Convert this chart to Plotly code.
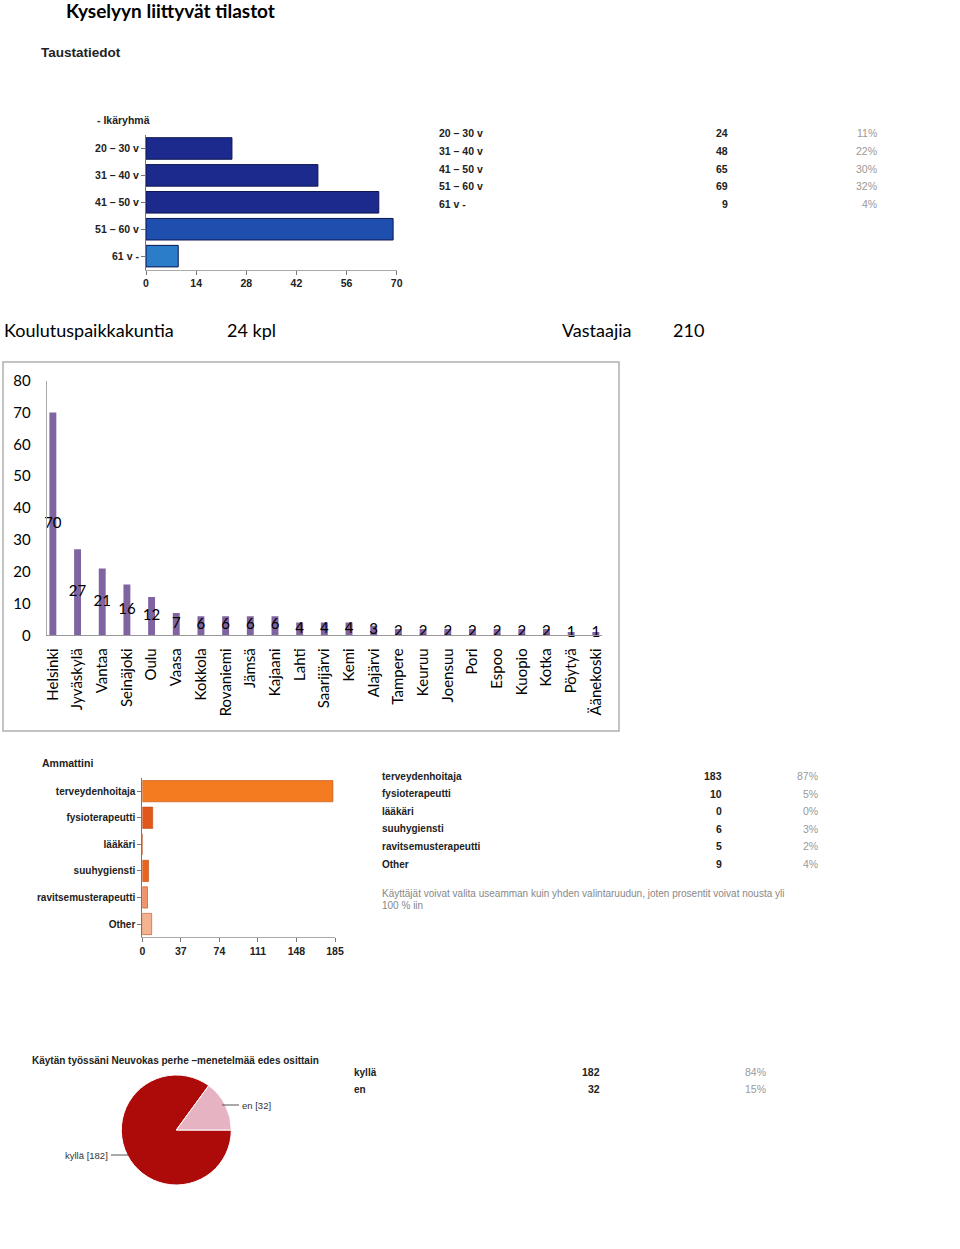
import plotly.graph_objects as go

W, H = 960, 1249
def px(v): return v / W
def py(v): return 1 - v / H

# ---------------- data ----------------
title_main = "Kyselyyn liittyvät tilastot"
section_title = "Taustatiedot"

age_groups = ["20 – 30 v", "31 – 40 v", "41 – 50 v", "51 – 60 v", "61 v -"]
age_counts = [24, 48, 65, 69, 9]
age_pct = ["11%", "22%", "30%", "32%", "4%"]
age_colors = ["#1b2a8c", "#1b2a8c", "#1b2a8c", "#1f4fae", "#2b7cc9"]
age_ticks = [0, 14, 28, 42, 56, 70]

cities = ["Helsinki", "Jyväskylä", "Vantaa", "Seinäjoki", "Oulu", "Vaasa", "Kokkola",
          "Rovaniemi", "Jämsä", "Kajaani", "Lahti", "Saarijärvi", "Kemi", "Alajärvi",
          "Tampere", "Keuruu", "Joensuu", "Pori", "Espoo", "Kuopio", "Kotka", "Pöytyä",
          "Äänekoski"]
city_counts = [70, 27, 21, 16, 12, 7, 6, 6, 6, 6, 4, 4, 4, 3, 2, 2, 2, 2, 2, 2, 2, 1, 1]
summary_labels = ["Koulutuspaikkakuntia", "24 kpl", "Vastaajia", "210"]

jobs = ["terveydenhoitaja", "fysioterapeutti", "lääkäri", "suuhygiensti",
        "ravitsemusterapeutti", "Other"]
job_counts = [183, 10, 0, 6, 5, 9]
job_pct = ["87%", "5%", "0%", "3%", "2%", "4%"]
job_colors = ["#f47b20", "#e2571a", "#e2571a", "#e8641e", "#f0946a", "#f4b38e"]
job_ticks = [0, 37, 74, 111, 148, 185]
job_note = ["Käyttäjät voivat valita useamman kuin yhden valintaruudun, joten prosentit voivat nousta yli",
            "100 % iin"]

pie_title = "Käytän työssäni Neuvokas perhe –menetelmää edes osittain"
pie_labels = ["kyllä", "en"]
pie_values = [182, 32]
pie_pct = ["84%", "15%"]
pie_colors = ["#ad0a0a", "#e6b3c3"]

# ---------------- figure ----------------
fig = go.Figure()
SANS = "Liberation Sans"

fig.add_trace(go.Bar(
    x=age_counts, y=age_groups, orientation="h", xaxis="x", yaxis="y",
    marker=dict(color=age_colors, line=dict(color="#0d1650", width=1)),
    hoverinfo="skip"))

fig.add_trace(go.Bar(
    x=cities, y=city_counts, xaxis="x2", yaxis="y2", width=0.28,
    marker=dict(color="#8064a2"), hoverinfo="skip"))
fig.add_trace(go.Scatter(
    x=cities, y=[v / 2 for v in city_counts], text=[str(v) for v in city_counts],
    mode="text", textfont=dict(family="Lato", size=15, color="black"),
    xaxis="x2", yaxis="y2", cliponaxis=False, hoverinfo="skip"))

fig.add_trace(go.Bar(
    x=job_counts, y=jobs, orientation="h", xaxis="x3", yaxis="y3",
    marker=dict(color=job_colors, line=dict(color="#c04a10", width=0.6)),
    hoverinfo="skip"))

fig.add_trace(go.Pie(
    labels=pie_labels, values=pie_values, sort=False, direction="counterclockwise",
    rotation=90, textinfo="none", marker=dict(colors=pie_colors, line=dict(color="white", width=1)),
    domain=dict(x=[px(176.3 - 55), px(176.3 + 55)], y=[py(1185), py(1075)]),
    hoverinfo="skip"))

tick_small = dict(family=SANS, size=10.5, color="#222", weight="bold")
fig.update_layout(
    template="none",
    width=W, height=H, margin=dict(l=0, r=0, t=0, b=0, pad=0), autosize=False,
    paper_bgcolor="white", plot_bgcolor="white", showlegend=False,
    bargap=0.2,
    xaxis=dict(domain=[px(146), px(396.7)], range=[0, 70], tickvals=age_ticks, automargin=False,
               ticks="outside", ticklen=4, tickcolor="#777", showline=True, linecolor="#aaa",
               showgrid=False, zeroline=False, tickfont=tick_small, anchor="y", fixedrange=True),
    yaxis=dict(domain=[py(269.6), py(135)], autorange="reversed", type="category", automargin=False,
               ticks="outside", ticklen=4, tickcolor="#777", showline=True, linecolor="#777",
               showgrid=False, zeroline=False, tickfont=tick_small, anchor="x", fixedrange=True),
    xaxis2=dict(domain=[px(46.7), px(602)], range=[-0.25, 22.25], type="category", automargin=False,
                tickangle=-90, tickfont=dict(family="Lato", size=15, color="black"),
                showline=True, linecolor="#999", ticks="", showgrid=False, zeroline=False,
                ticklabelstandoff=6, anchor="y2", fixedrange=True),
    yaxis2=dict(domain=[py(635.3), py(380.7)], range=[0, 80], dtick=10, automargin=False,
                showline=True, linecolor="#aaa", ticks="", showgrid=False, zeroline=False,
                tickfont=dict(family="Lato", size=15, color="black"),
                ticklabelstandoff=12, anchor="x2", fixedrange=True),
    xaxis3=dict(domain=[px(142.3), px(335)], range=[0, 185], tickvals=job_ticks, automargin=False,
                ticks="outside", ticklen=4, tickcolor="#777", showline=True, linecolor="#aaa",
                showgrid=False, zeroline=False, tickfont=tick_small, anchor="y3", fixedrange=True),
    yaxis3=dict(domain=[py(937.3), py(777.9)], autorange="reversed", type="category", automargin=False,
                ticks="outside", ticklen=4, tickcolor="#777", showline=True, linecolor="#777",
                showgrid=False, zeroline=False,
                tickfont=dict(family=SANS, size=10, color="#222", weight="bold"),
                anchor="x3", fixedrange=True),
)

ann = []
def text(x, y, s, size=11, color="#222", bold=False, family=SANS, anchor="left"):
    ann.append(dict(x=px(x), y=py(y), xref="paper", yref="paper", text=s, showarrow=False,
                    xanchor=anchor, yanchor="middle", borderpad=0,
                    font=dict(family=family, size=size, color=color,
                              weight="bold" if bold else "normal")))

text(65, 10.5, title_main, size=19, color="black", bold=True, family="Lato")
text(40, 52, section_title, size=13.5, bold=True)
text(96, 120, "- Ikäryhmä", size=10.5, bold=True)

for i, (g, c, p) in enumerate(zip(age_groups, age_counts, age_pct)):
    yy = 133 + i * 17.8
    text(438, yy, g, size=10.5, bold=True)
    text(729, yy, str(c), size=10.5, bold=True, anchor="right")
    text(878, yy, p, size=10.5, color="#999", anchor="right")

for s, x in zip(summary_labels, [3, 226, 561, 672]):
    text(x, 330, s, size=18, color="black", family="Lato")

text(41, 763, "Ammattini", size=10.5, bold=True)
for i, (g, c, p) in enumerate(zip(jobs, job_counts, job_pct)):
    yy = 776 + i * 17.6
    text(381, yy, g, size=10, bold=True)
    text(723, yy, str(c), size=10.5, bold=True, anchor="right")
    text(819, yy, p, size=10.5, color="#999", anchor="right")
for i, s in enumerate(job_note):
    text(381, 893 + i * 12, s, size=10, color="#888")

text(31, 1060, pie_title, size=10, bold=True)
for i, (g, c, p) in enumerate(zip(pie_labels, pie_values, pie_pct)):
    yy = 1072 + i * 17
    text(353, yy, g, size=10, bold=True)
    text(601, yy, str(c), size=10.5, bold=True, anchor="right")
    text(767, yy, p, size=10.5, color="#999", anchor="right")

text(241, 1105, f"{pie_labels[1]} [{pie_values[1]}]", size=9.5, color="#333")
text(109, 1155, f"{pie_labels[0]} [{pie_values[0]}]", size=9.5, color="#333", anchor="right")

shapes = [
    dict(type="rect", xref="paper", yref="paper", x0=px(3), x1=px(619), y0=py(731), y1=py(362),
         line=dict(color="#b0b0b0", width=1.5)),
    dict(type="line", xref="paper", yref="paper", x0=px(222), x1=px(239), y0=py(1105), y1=py(1105),
         line=dict(color="#555", width=1)),
    dict(type="line", xref="paper", yref="paper", x0=px(111), x1=px(128), y0=py(1155), y1=py(1155),
         line=dict(color="#555", width=1)),
]

fig.update_layout(annotations=ann, shapes=shapes)

fig.write_html("out.html", config={"displayModeBar": False},
               post_script="document.body.style.margin='0';document.body.style.overflow='hidden';")
